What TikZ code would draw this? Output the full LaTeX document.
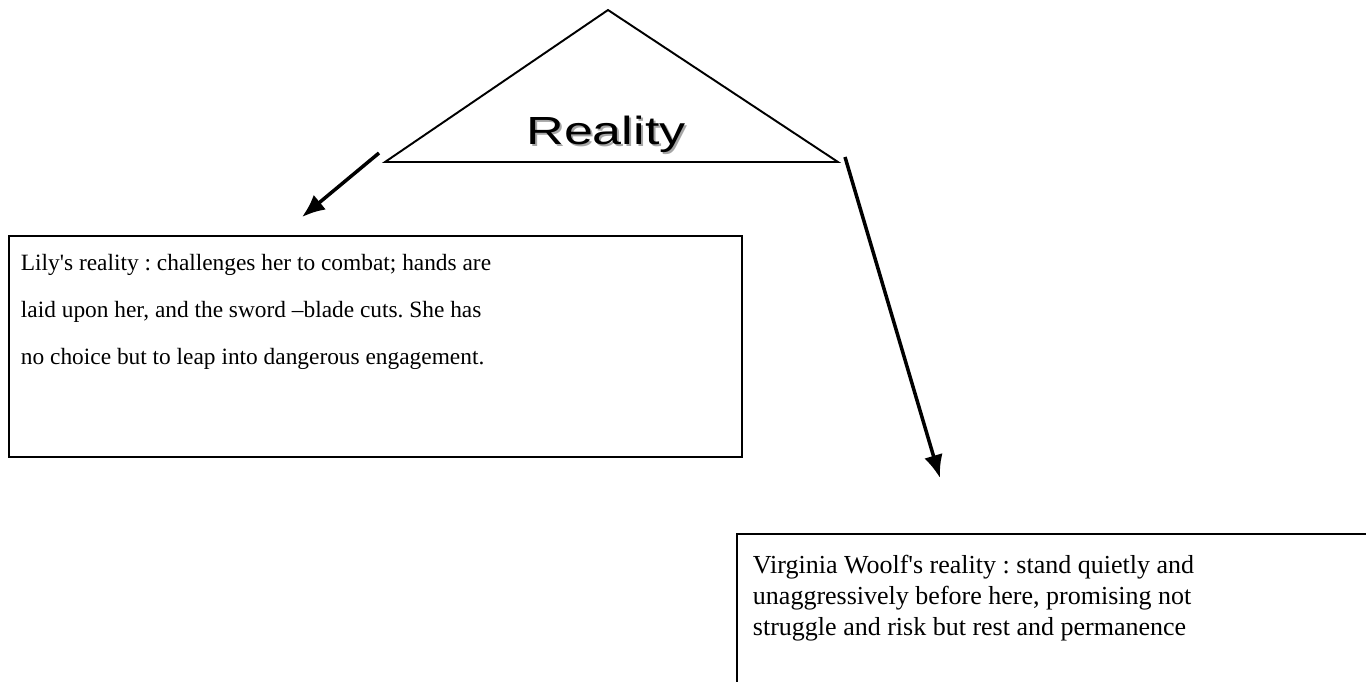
\documentclass[tikz,border=0pt]{standalone}
\usepackage{fontspec}
\setmainfont{Liberation Serif}
\newfontfamily\headfont{Liberation Sans}
\usetikzlibrary{arrows.meta,positioning}
\frenchspacing

\begin{document}
\begin{tikzpicture}[x=0.02cm, y=-0.02cm, line width=1.1pt, >={Latex[length=0.46cm,width=0.38cm]}]
  \useasboundingbox (0,0) rectangle (1366,681);
  \clip (0,0) rectangle (1366,681);
  % the triangle
  \coordinate (apex) at (608,10);
  \coordinate (baseleft) at (385,162);
  \coordinate (baseright) at (838,162);
  \draw (apex) -- (baseleft) -- (baseright) -- cycle;
  \node[text=black!35, font=\headfont\fontsize{22.8}{27}\selectfont] (realityshadow) at (608,136) {\scalebox{1.3}[0.98]{Reality}};
  \node[font=\headfont\fontsize{22.8}{27}\selectfont] (reality) at (606,134) {\scalebox{1.3}[0.98]{Reality}};
  % the two boxes
  \node[draw, anchor=north west, minimum width=14.66cm, minimum height=4.42cm] (lily) at (8,235) {};
  \node[draw, anchor=north west, minimum width=14cm, minimum height=4cm] (woolf) at (736,533) {};
  \node[anchor=north west, align=left, inner sep=0pt, font=\fontsize{13.3}{26.7}\selectfont] (lilytext) at (20,253)
    {Lily\textquotesingle s reality : challenges her to combat; hands are\\
     laid upon her, and the sword --blade cuts. She has\\
     no choice but to leap into dangerous engagement.};
  \node[anchor=north west, align=left, inner sep=0pt, font=\fontsize{14.8}{17.6}\selectfont] (woolftext) at (752,554)
    {Virginia Woolf\textquotesingle s reality : stand quietly and\\
     unaggressively before here, promising not\\
     struggle and risk but rest and permanence};
  % arrows
  \coordinate (leftfrom) at (379,153);
  \coordinate (leftto) at (302,217);
  \coordinate (rightfrom) at (845,157);
  \coordinate (rightto) at (940,478);
  \draw[->, line width=2pt] (leftfrom) -- (leftto);
  \draw[->, line width=2pt] (rightfrom) -- (rightto);
\end{tikzpicture}
\end{document}
